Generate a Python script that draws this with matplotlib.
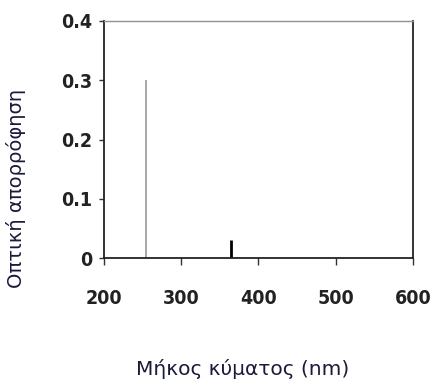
import matplotlib
matplotlib.use("Agg")
import matplotlib.pyplot as plt

# absorption lines (wavelength nm, absorbance)
wl_gray = [254]
abs_gray = [0.30]
wl_black = [365]
abs_black = [0.03]

xticks = [200, 300, 400, 500, 600]
yticks = [0, 0.1, 0.2, 0.3, 0.4]
ytick_labels = ["0", "0.1", "0.2", "0.3", "0.4"]

fig = plt.figure(figsize=(4.31, 3.80), dpi=100)
ax = fig.add_axes([104 / 431, 1 - 258 / 380, 309 / 431, 237 / 380])

ax.vlines(wl_gray, 0, abs_gray, color="#a0a0a0", lw=1.3)
ax.vlines(wl_black, 0, abs_black, color="black", lw=2)

ax.set_xlim(200, 600)
ax.set_ylim(0, 0.4)
ax.set_xticks(xticks)
ax.set_yticks(yticks)
ax.set_yticklabels(ytick_labels)

for lab in ax.get_xticklabels() + ax.get_yticklabels():
    lab.set_fontfamily("DejaVu Sans")
    lab.set_fontstretch("condensed")
    lab.set_fontweight("bold")
    lab.set_fontsize(14)
    lab.set_color("#222222")

ax.tick_params(direction="out", width=1, color="#333333")
ax.tick_params(axis="y", length=3.6, pad=5)
ax.tick_params(axis="x", length=5, pad=17)
for side in ["left", "bottom", "right"]:
    ax.spines[side].set_color("#222222")
    ax.spines[side].set_linewidth(1.3)
ax.spines["top"].set_color("#909090")
ax.spines["top"].set_linewidth(1.0)

fig.text(243 / 431, 1 - 369 / 380, "Μήκος κύματος (nm)", ha="center", va="center",
         fontsize=14.5, color="#1a1a3a", family="DejaVu Sans")
fig.text(16 / 431, 1 - 188 / 380, "Οπτική απορρόφηση", ha="center", va="center",
         rotation=90, fontsize=14, color="#1a1a3a", family="DejaVu Sans")

fig.savefig("out.png", dpi=100)
